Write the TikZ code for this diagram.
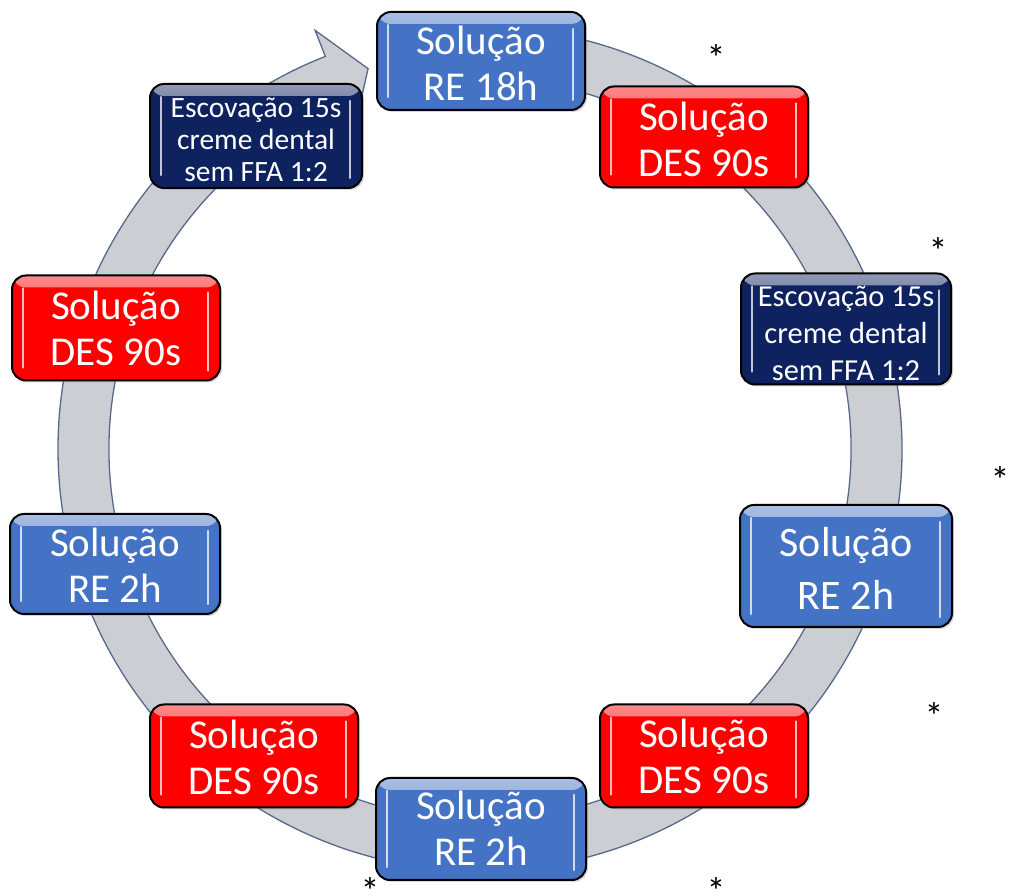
\documentclass[tikz,border=0pt]{standalone}
\usepackage{fontspec}
\setmainfont{Carlito}
\usetikzlibrary{shadows}
\definecolor{ringfill}{HTML}{CDCED3}
\definecolor{ringline}{HTML}{56698A}
\definecolor{boxblue}{HTML}{4472C4}
\definecolor{boxred}{HTML}{FF0000}
\definecolor{boxnavy}{HTML}{0E2260}
\newcommand{\boxtext}[2]{\raisebox{-#1}[\height][\depth]{\begin{tabular}{@{}c@{}}#2\end{tabular}}}
\newcommand{\startxt}{\raisebox{-0.575em}[0.14em][0.14em]{\makebox[0.28em]{*}}}
\begin{document}
\begin{tikzpicture}[x=1pt,y=1pt,
  box/.style={draw=black, line width=2pt, rounded corners=14pt, fill=#1, text=white,
    inner sep=0pt,
    path picture={
      \shade[top color=#1!45!white, bottom color=#1]
        ([yshift=2pt]path picture bounding box.north west) rectangle
        ([yshift=-12pt]path picture bounding box.north east);
      \draw[white, opacity=0.75, line width=2.5pt, line cap=round]
        ([xshift=11pt,yshift=-13pt]path picture bounding box.north west) --
        ([xshift=11pt,yshift=13pt]path picture bounding box.south west);
      \draw[white, opacity=0.75, line width=2.5pt, line cap=round]
        ([xshift=-12pt,yshift=-17pt]path picture bounding box.north east) --
        ([xshift=-12pt,yshift=10pt]path picture bounding box.south east);
    }},
  shadowed/.style={drop shadow={opacity=0.3, shadow xshift=2pt, shadow yshift=-2pt}},
  bigtext/.style={font=\fontsize{41}{46}\selectfont},
  largertext/.style={font=\fontsize{42}{53}\selectfont},
  smalltext/.style={font=\fontsize{29.5}{32}\selectfont},
  wideltext/.style={font=\fontsize{30.5}{37}\selectfont},
  startext/.style={font=\fontsize{38}{38}\selectfont, inner sep=0pt, anchor=center, text=black}
]
\useasboundingbox (0,0) rectangle (1009,896);
\coordinate (C) at (480,447);
% circular arrow
\path[draw=ringline, line width=1.3pt, fill=ringfill]
  ([shift={(95:422)}]C) arc[start angle=95, end angle=-248.5, radius=422]
  -- ([shift={(-248.5:450)}]C) -- ([shift={(-253.6:396.5)}]C)
  -- ([shift={(-248.5:343)}]C) -- ([shift={(-248.5:371)}]C)
  arc[start angle=-248.5, end angle=95, radius=371] -- cycle;
% nodes
\node[box=boxblue, shadowed, bigtext, minimum width=208, minimum height=98] (a1) at (481,835) {\boxtext{7.5pt}{Solução\\RE 18h}};
\node[box=boxred, shadowed, bigtext, minimum width=208, minimum height=101] (a2) at (704,759) {\boxtext{7pt}{Solução\\DES 90s}};
\node[box=boxnavy, shadowed, wideltext, minimum width=210, minimum height=103] (a3) at (846,567) {\boxtext{7pt}{Escovação 15s\\creme dental\\sem FFA 1:2}};
\node[box=boxblue, shadowed, largertext, minimum width=212, minimum height=122] (a4) at (846,330) {\boxtext{6pt}{Solução\\RE 2h}};
\node[box=boxred, shadowed, bigtext, minimum width=208, minimum height=103] (a5) at (704,140) {\boxtext{5pt}{Solução\\DES 90s}};
\node[box=boxblue, shadowed, bigtext, minimum width=210, minimum height=102] (a6) at (481,67) {\boxtext{4.5pt}{Solução\\RE 2h}};
\node[box=boxred, shadowed, bigtext, minimum width=208, minimum height=103] (a7) at (254,140) {\boxtext{6pt}{Solução\\DES 90s}};
\node[box=boxblue, shadowed, bigtext, minimum width=210, minimum height=100] (a8) at (115,332) {\boxtext{6pt}{Solução\\RE 2h}};
\node[box=boxred, shadowed, bigtext, minimum width=208, minimum height=105] (a9) at (116,568) {\boxtext{5.5pt}{Solução\\DES 90s}};
\node[box=boxnavy, shadowed, smalltext, minimum width=212, minimum height=104] (a10) at (256,760) {\boxtext{7pt}{Escovação 15s\\creme dental\\sem FFA 1:2}};
% asterisks
\node[startext] (s1) at (716,846) {\startxt};
\node[startext] (s2) at (938,653) {\startxt};
\node[startext] (s3) at (1000,424) {\startxt};
\node[startext] (s4) at (934,188) {\startxt};
\node[startext] (s5) at (370,13) {\startxt};
\node[startext] (s6) at (716,13) {\startxt};
\end{tikzpicture}
\end{document}
